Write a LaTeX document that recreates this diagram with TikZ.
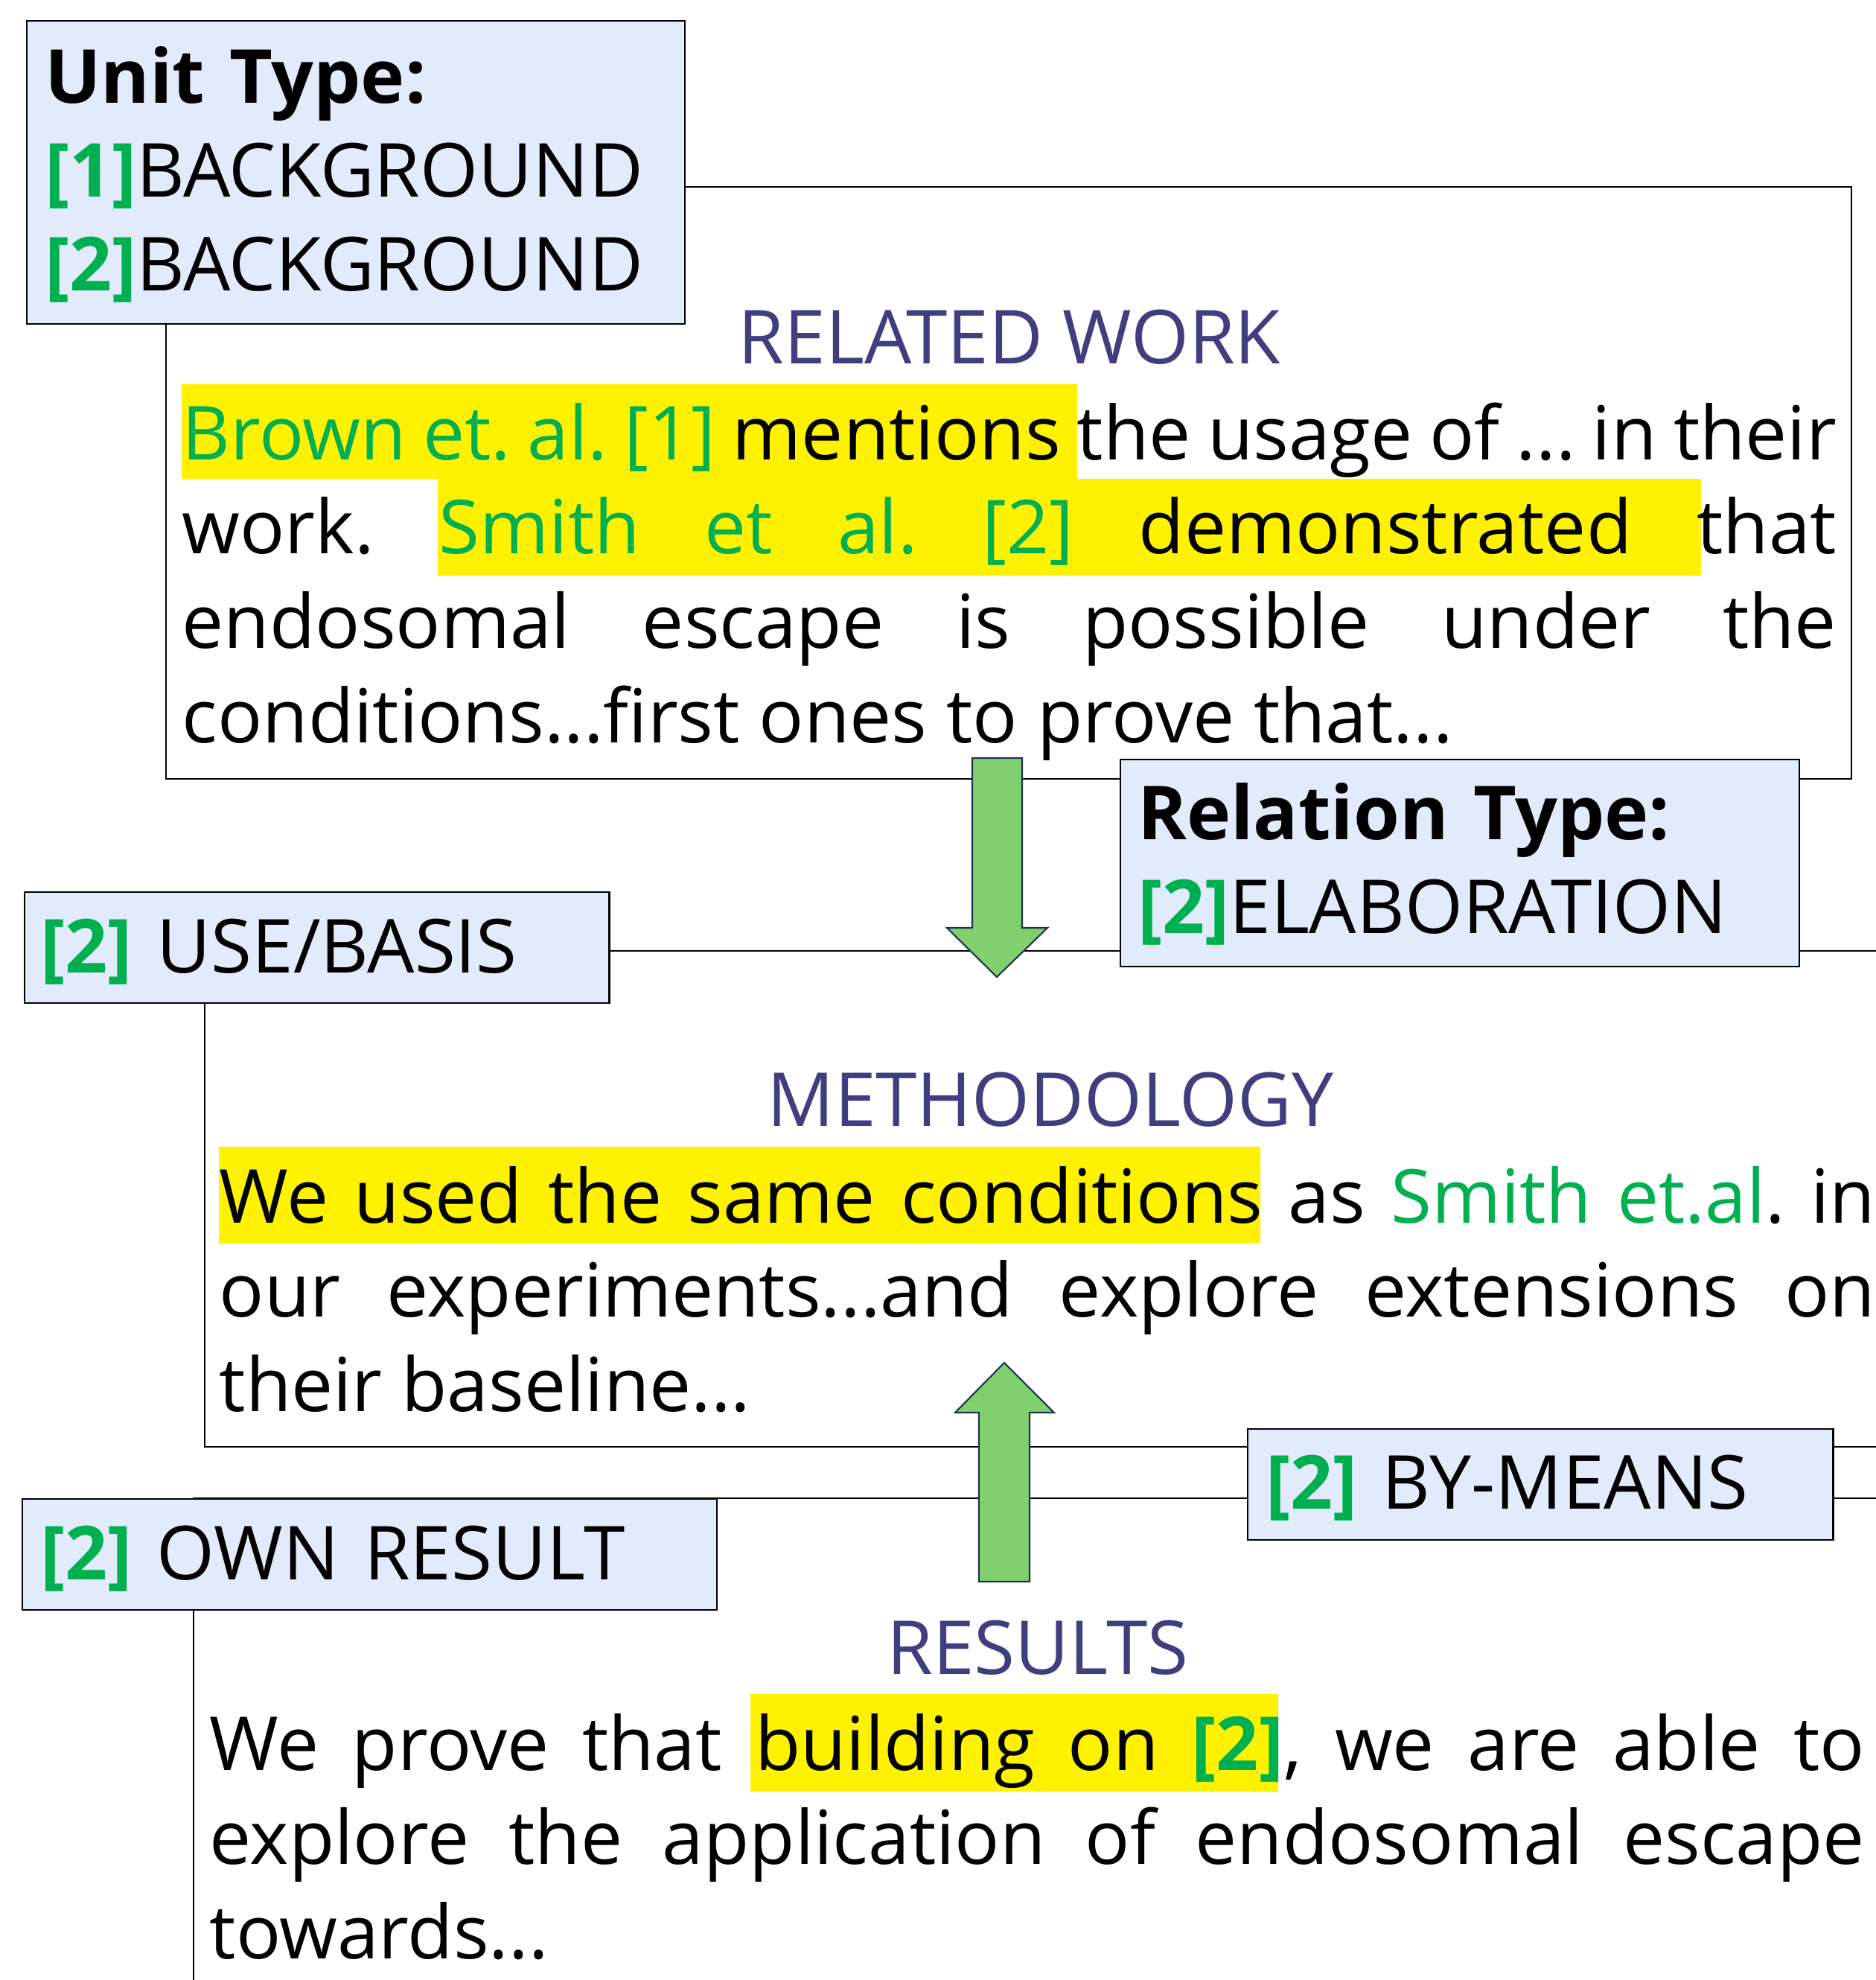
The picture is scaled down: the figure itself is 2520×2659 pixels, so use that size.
\documentclass[tikz,border=0pt]{standalone}
\usepackage{fontspec}
\setmainfont{Open Sans}
\usepackage{xcolor}
\definecolor{refgreen}{HTML}{00B050}
\definecolor{headblue}{HTML}{3F3F80}
\definecolor{boxfill}{HTML}{E1EBFB}
\definecolor{arrowfill}{HTML}{80D070}
\definecolor{arrowline}{HTML}{1F3350}
\frenchspacing
\newcommand{\bodyfont}{\fontsize{28.45pt}{36.1pt}\selectfont}
\newcommand{\boxfont}{\fontsize{28.45pt}{35.9pt}\selectfont}
\newcommand{\reftag}[1]{\textcolor{refgreen}{\bfseries[#1]}}
\newcommand{\grn}[1]{\textcolor{refgreen}{#1}}

\begin{document}
\begin{tikzpicture}[x=0.01cm,y=-0.01cm]
    \useasboundingbox (0,0) rectangle (2520,2659);
    \fill[white] (0,0) rectangle (2520,2659);

    % section frames
    \begin{scope}[line width=0.45pt]
        \draw (223,251) rectangle (2487,1046);
        \draw (2520,1277) -- (275,1277) -- (275,1943) -- (2520,1943);
        \draw (2520,2012) -- (260,2012) -- (260,2659);
    \end{scope}

    % highlighted spans
    \begin{scope}[fill=yellow]
        \fill (244,516) rectangle (1447,643);
        \fill (588,643) rectangle (2285,773);
        \fill (294,1540) rectangle (1693,1670);
        \fill (1008,2275) rectangle (1717,2406);
    \end{scope}

    % headings
    \begin{scope}[every node/.style={anchor=base,inner sep=0pt,text=headblue,font=\bodyfont}]
        \node (rwhead) at (1356,488) {RELATED WORK};
        \node (mhead) at (1411,1512) {METHODOLOGY};
        \node (rhead) at (1394,2248) {RESULTS};
    \end{scope}

    % section texts
    \begin{scope}[every node/.style={anchor=base west,inner sep=0pt,text width=22.21cm,align=justify,font=\bodyfont}]
        \node (rwtext) at (244,617) {\grn{Brown et. al. [1]} mentions the usage of ... in their\linebreak
            work. \grn{Smith et al. [2]} demonstrated that\linebreak
            endosomal escape is possible under the\linebreak
            conditions...first ones to prove that...};
        \node[text width=22.23cm] (mtext) at (294,1642) {We used the same conditions as \grn{Smith et.al}. in\linebreak
            our experiments...and explore extensions on\linebreak
            their baseline...};
        \node[text width=22.22cm] (rtext) at (281,2377) {We prove that building on \reftag{2}, we are able to\linebreak
            explore the application of endosomal escape\linebreak
            towards...};
    \end{scope}

    % block arrows
    \begin{scope}[fill=arrowfill,draw=arrowline,line width=0.6pt]
        \filldraw (1306,1018) -- (1373,1018) -- (1373,1246) -- (1407,1246) -- (1339,1312)
            -- (1272,1246) -- (1306,1246) -- cycle;
        \filldraw (1315,2124) -- (1383,2124) -- (1383,1897) -- (1416,1897) -- (1349,1830)
            -- (1283,1897) -- (1315,1897) -- cycle;
    \end{scope}

    % type labels
    \begin{scope}[every node/.style={draw,line width=0.6pt,fill=boxfill,anchor=north west,
            inner xsep=0.24cm,inner ysep=0pt,align=left,font=\boxfont}]
        \node[text width=8.35cm,text height=1.10cm,text depth=2.97cm] (unitbox) at (35,27)
            {\textbf{Unit Type:}\\\reftag{1}BACKGROUND\\\reftag{2}BACKGROUND};
        \node[inner xsep=0.23cm,text width=8.65cm,text height=1.07cm,text depth=1.71cm] (relbox) at (1504,1019)
            {\textbf{Relation Type:}\\\reftag{2}ELABORATION};
        \node[inner xsep=0.21cm,text width=7.43cm,text height=1.08cm,text depth=0.41cm] (usebox) at (32,1197)
            {\reftag{2} USE/BASIS};
        \node[text width=7.38cm,text height=1.07cm,text depth=0.42cm] (meansbox) at (1675,1918)
            {\reftag{2} BY-MEANS};
        \node[text width=8.84cm,text height=1.08cm,text depth=0.41cm] (ownbox) at (29,2012)
            {\reftag{2} OWN RESULT};
    \end{scope}
\end{tikzpicture}
\end{document}
